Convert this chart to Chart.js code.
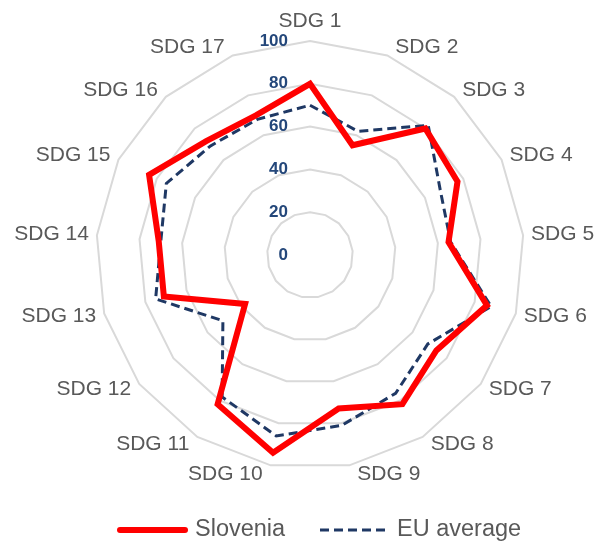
<!DOCTYPE html>
<html>
<head>
<meta charset="utf-8">
<script src="https://cdn.jsdelivr.net/npm/chart.js@4/dist/chart.umd.min.js"></script>
<style>
  html, body { margin: 0; padding: 0; background: #fff; }
  #wrap { width: 597px; height: 542px; }
</style>
</head>
<body>
<div id="wrap"><canvas id="radar"></canvas></div>
<script>
const sdgLabels = ['SDG 1', 'SDG 2', 'SDG 3', 'SDG 4', 'SDG 5', 'SDG 6', 'SDG 7', 'SDG 8', 'SDG 9',
  'SDG 10', 'SDG 11', 'SDG 12', 'SDG 13', 'SDG 14', 'SDG 15', 'SDG 16', 'SDG 17']
const slovenia = [80, 55, 80, 77, 65, 86, 74, 82, 73, 94, 82, 38, 71, 71, 84, 72, 70]
const euAverage = [70, 62, 82, 68, 66, 88, 69, 76, 81, 86, 78, 51, 75, 70, 75, 69, 68]
const tickValues = [0, 20, 40, 60, 80, 100]

const FONT = '"Liberation Sans", Arial, sans-serif'

// scale numbers sit left of the vertical axis, right aligned
const tickLabels = {
  id: 'tickLabels',
  afterDatasetsDraw(chart) {
    const scale = chart.scales.r
    const ctx = chart.ctx
    ctx.save()
    ctx.font = 'bold 17px ' + FONT
    ctx.fillStyle = '#24477a'
    ctx.textAlign = 'right'
    ctx.textBaseline = 'middle'
    tickValues.forEach(v => {
      const y = scale.yCenter - scale.getDistanceFromCenterForValue(v)
      ctx.fillText(String(v), scale.xCenter - 22, y)
    })
    ctx.restore()
  }
}

// category names just outside the outer ring, left/right aligned by side
const sdgNames = {
  id: 'sdgNames',
  afterDraw(chart) {
    const scale = chart.scales.r
    const ctx = chart.ctx
    ctx.save()
    ctx.font = '21px ' + FONT
    ctx.fillStyle = '#595959'
    sdgLabels.forEach((label, i) => {
      const angle = scale.getIndexAngle(i)
      const sin = Math.sin(angle)
      const cos = Math.cos(angle)
      const p = scale.getPointPosition(i, scale.drawingArea)
      if (Math.abs(sin) < 0.05) {
        ctx.textAlign = 'center'
        ctx.textBaseline = 'alphabetic'
        ctx.fillText(label, p.x, p.y - 14)
        return
      }
      ctx.textAlign = sin > 0 ? 'left' : 'right'
      ctx.textBaseline = 'middle'
      ctx.fillText(label, p.x + (sin > 0 ? 8 : -8), p.y - 9 * cos)
    })
    ctx.restore()
  }
}

// legend row under the chart, styled from the datasets
const legendRow = {
  id: 'legendRow',
  afterDraw(chart) {
    const ctx = chart.ctx
    const items = [{ x1: 120, x2: 185, tx: 195 }, { x1: 320, x2: 388, tx: 397 }]
    const y = 530
    ctx.save()
    chart.data.datasets.forEach((ds, i) => {
      const it = items[i]
      ctx.beginPath()
      ctx.strokeStyle = ds.borderColor
      ctx.lineWidth = ds.borderWidth
      ctx.lineCap = ds.borderDash ? 'butt' : 'round'
      ctx.setLineDash(ds.borderDash || [])
      ctx.moveTo(it.x1, y)
      ctx.lineTo(it.x2, y)
      ctx.stroke()
      ctx.setLineDash([])
      ctx.font = '23.5px ' + FONT
      ctx.fillStyle = '#595959'
      ctx.textAlign = 'left'
      ctx.textBaseline = 'middle'
      ctx.fillText(ds.label, it.tx, y)
    })
    ctx.restore()
  }
}

new Chart(document.getElementById('radar'), {
  type: 'radar',
  data: {
    labels: sdgLabels,
    datasets: [{
      label: 'Slovenia',
      data: slovenia,
      borderColor: '#ff0000',
      backgroundColor: '#ff0000',
      borderWidth: 6,
      borderJoinStyle: 'miter',
      pointRadius: 0,
      fill: false
    }, {
      label: 'EU average',
      data: euAverage,
      borderColor: '#1f3864',
      backgroundColor: '#1f3864',
      borderWidth: 3,
      borderDash: [9, 5],
      pointRadius: 0,
      fill: false
    }]
  },
  options: {
    responsive: true,
    maintainAspectRatio: false,
    animation: false,
    layout: { padding: { left: 96, right: 73, top: 41, bottom: 73 } },
    plugins: {
      legend: { display: false },
      tooltip: { enabled: false }
    },
    scales: {
      r: {
        min: 0,
        max: 100,
        ticks: { stepSize: 20, display: false },
        angleLines: { display: false },
        grid: { color: '#d9d9d9', lineWidth: 2 },
        pointLabels: { display: false }
      }
    }
  },
  plugins: [tickLabels, sdgNames, legendRow]
})
</script>
</body>
</html>
